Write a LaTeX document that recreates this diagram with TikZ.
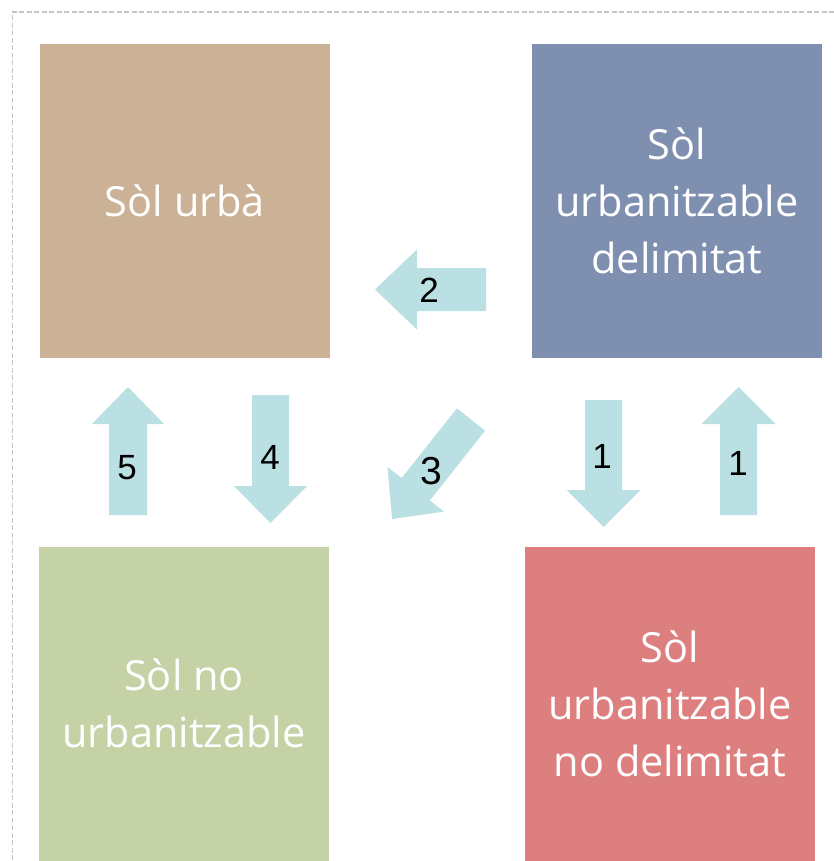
\documentclass[tikz,border=0pt]{standalone}
\usepackage{fontspec}
\setmainfont{Open Sans}
\newfontfamily\numfont{Liberation Sans}
\definecolor{cbrown}{HTML}{CBB196}
\definecolor{cblue}{HTML}{7F8FAF}
\definecolor{cgreen}{HTML}{C5D2A6}
\definecolor{cred}{HTML}{DE7F7F}
\definecolor{carrow}{HTML}{BBE0E3}
\definecolor{cframe}{HTML}{C4C4C4}
\tikzset{
  box/.style={minimum width=290pt, minimum height=314pt, inner sep=0pt, align=center,
    text=white, font=\fontsize{41.5}{57}\selectfont},
  numlabel/.style={font=\numfont\fontsize{35}{40}\selectfont, text=black, inner sep=0pt},
  arrowfill/.style={fill=carrow, draw=none}
}
% #1,#2 start of shaft; #3 angle; #4 length; #5 head length; #6 head half width; #7 shaft half width
\newcommand{\fatarrow}[7]{%
  \begin{scope}[shift={(#1,#2)}, rotate=#3]
    \path[arrowfill] (0,-#7) -- ({#4-#5},-#7) -- ({#4-#5},-#6) -- (#4,0)
      -- ({#4-#5},#6) -- ({#4-#5},#7) -- (0,#7) -- cycle;
  \end{scope}}
\begin{document}
\begin{tikzpicture}[x=1pt,y=-1pt]
\useasboundingbox (0,0) rectangle (834,861);
\fill[white] (0,0) rectangle (834,861);
\draw[cframe, line width=1.6pt, dash pattern=on 5pt off 2.5pt] (834,11.8) -- (12.6,11.8) -- (12.6,861);

\node[box, fill=cbrown] (urba) at (185,201) {Sòl urbà};
\node[box, fill=cblue] (delim) at (677,201) {Sòl\\urbanitzable\\delimitat};
\node[box, fill=cgreen] (nourb) at (184,703.5) {Sòl no\\urbanitzable};
\node[box, fill=cred] (nodelim) at (670,703.5) {Sòl\\urbanitzable\\no delimitat};

% arrows
\fatarrow{486}{289.5}{180}{111}{42}{40}{21.5}
\fatarrow{128}{515}{90}{128}{37}{36}{19}
\fatarrow{270.5}{395}{-90}{128}{37}{36.5}{18.5}
\fatarrow{603.5}{400}{-90}{127}{37}{37}{18.5}
\fatarrow{738.5}{515}{90}{128}{37}{37}{18.5}
\fatarrow{471}{419.5}{-128.4}{127}{38}{36}{18}

\node[numlabel] (l2) at (429,290) {2};
\node[numlabel] (l5) at (127,468) {5};
\node[numlabel] (l4) at (270,457) {4};
\node[numlabel] (l1a) at (602,456) {1};
\node[numlabel] (l1b) at (738,463) {1};
\node[numlabel, font=\numfont\fontsize{39}{42}\selectfont] (l3) at (431,471) {3};
\end{tikzpicture}
\end{document}
